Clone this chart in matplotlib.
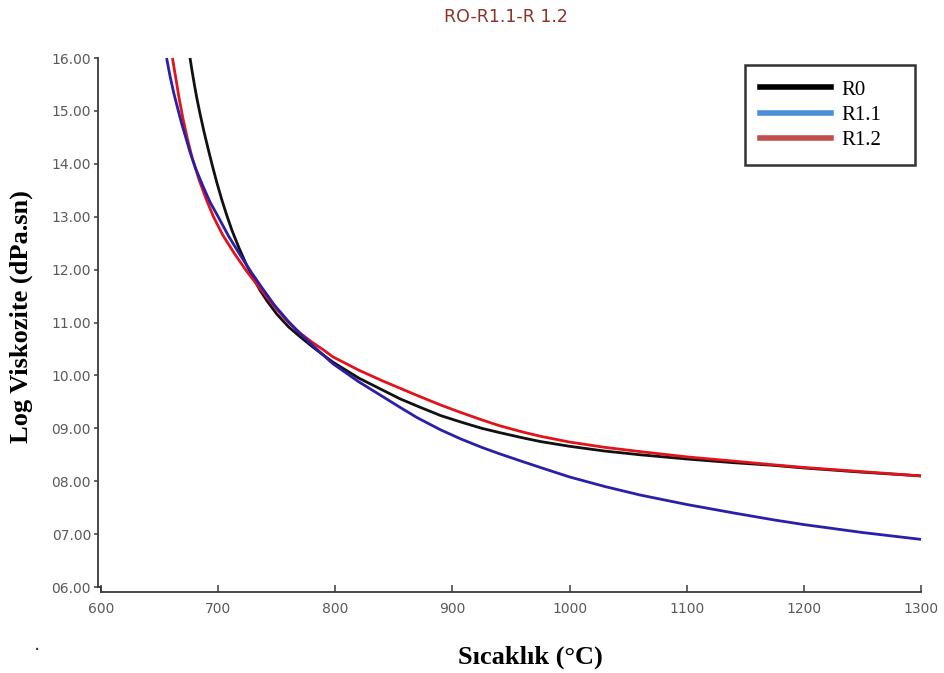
import matplotlib
matplotlib.use("Agg")
import matplotlib.pyplot as plt
from matplotlib.lines import Line2D
from matplotlib.ticker import FormatStrFormatter

# ---- data ----
r0_t = [676, 678, 680, 682, 684.5, 688, 691.6, 695, 698.7, 703, 707.3, 712, 718, 724, 730,
        736, 742, 750, 760, 770, 780, 790, 798, 820, 855, 870, 890, 907, 925, 940, 960,
        975, 1000, 1030, 1060, 1100, 1140, 1174, 1200, 1250, 1300]
r0_v = [16.0, 15.72, 15.46, 15.22, 14.95, 14.6, 14.27, 13.97, 13.66, 13.33, 13.03, 12.73,
        12.4, 12.1, 11.84, 11.6, 11.4, 11.16, 10.92, 10.73, 10.55, 10.38, 10.25, 9.95,
        9.56, 9.42, 9.24, 9.12, 9.00, 8.92, 8.82, 8.75, 8.66, 8.57, 8.50, 8.42, 8.35,
        8.30, 8.25, 8.17, 8.10]

r11_t = [656, 659, 662, 666, 669, 673, 676, 681, 687, 693, 700, 709, 719, 728, 737, 748,
         760, 770, 780, 790, 798, 820, 855, 870, 890, 907, 925, 940, 960, 975, 1000, 1030,
         1060, 1100, 1140, 1174, 1200, 1250, 1300]
r11_v = [16.0, 15.65, 15.35, 15.0, 14.75, 14.45, 14.22, 13.9, 13.58, 13.28, 13.0, 12.63,
         12.27, 11.96, 11.67, 11.33, 11.02, 10.79, 10.58, 10.38, 10.22, 9.88, 9.40, 9.20,
         8.97, 8.80, 8.64, 8.52, 8.37, 8.26, 8.08, 7.90, 7.74, 7.56, 7.40, 7.27, 7.18,
         7.03, 6.90]

r12_t = [661, 664, 667, 670, 674, 678, 684, 690, 696, 704, 714, 724, 733, 742, 750, 760,
         770, 780, 790, 798, 820, 840, 855, 870, 890, 907, 925, 940, 960, 975, 1000, 1030,
         1060, 1100, 1140, 1174, 1200, 1250, 1300]
r12_v = [16.0, 15.6, 15.2, 14.85, 14.45, 14.1, 13.68, 13.32, 13.0, 12.65, 12.3, 11.98,
         11.72, 11.47, 11.25, 11.0, 10.8, 10.63, 10.48, 10.35, 10.1, 9.9, 9.76, 9.62,
         9.44, 9.30, 9.16, 9.05, 8.93, 8.85, 8.74, 8.64, 8.56, 8.46, 8.38, 8.31, 8.26,
         8.18, 8.10]

series_labels = ["R0", "R1.1", "R1.2"]
title_text = "RO-R1.1-R 1.2"
xlabel_text = "Sıcaklık (°C)"
ylabel_text = "Log Viskozite (dPa.sn)"
x_ticks = [600, 700, 800, 900, 1000, 1100, 1200, 1300]
y_ticks = [6, 7, 8, 9, 10, 11, 12, 13, 14, 15, 16]

# ---- figure ----
fig = plt.figure(figsize=(9.44, 6.73), dpi=100)
ax = fig.add_axes([98 / 944, 1 - 592 / 673, (921 - 98) / 944, (592 - 58) / 673])

line_kw = dict(lw=2.0, clip_on=False, solid_capstyle="butt", solid_joinstyle="round")
ax.plot(r0_t, r0_v, color="#111111", **line_kw)
ax.plot(r12_t, r12_v, color="#e0141a", **line_kw)
ax.plot(r11_t, r11_v, color="#2a1fa8", **line_kw)

ax.set_xlim(597.44, 1300)
ax.set_ylim(5.9055, 16.0)

for s in ("top", "right"):
    ax.spines[s].set_visible(False)
spine_col = "#3a3a3a"
ax.spines["left"].set_bounds(6, 16)
ax.spines["bottom"].set_bounds(600, 1300)
for s in ("left", "bottom"):
    ax.spines[s].set_color(spine_col)
    ax.spines[s].set_linewidth(1.3)
# small corner jog joining the two axes
ax.plot([597.44, 600, 600], [6.0, 6.0, 5.9055], color=spine_col, lw=1.3, clip_on=False)

ax.set_xticks(x_ticks)
ax.set_yticks(y_ticks)
ax.yaxis.set_major_formatter(FormatStrFormatter("%05.2f"))
ax.tick_params(axis="x", direction="in", length=5, width=1.1, color=spine_col,
               labelsize=10, labelcolor="#5a5a5a", pad=7)
ax.tick_params(axis="y", direction="out", length=3, width=1.1, color=spine_col,
               labelsize=10, labelcolor="#5a5a5a", pad=2)
for lab in ax.get_xticklabels() + ax.get_yticklabels():
    lab.set_fontfamily("DejaVu Sans")

fig.text(506 / 944, 1 - 17 / 673, title_text, ha="center", va="center",
         fontsize=12.5, color="#8a3326", family="DejaVu Sans")
fig.text(530 / 944, 1 - 657 / 673, xlabel_text, ha="center", va="center",
         fontsize=19, fontweight="bold", family="Liberation Serif")
fig.text(21 / 944, 1 - 317 / 673, ylabel_text, ha="center", va="center", rotation=90,
         fontsize=19, fontweight="bold", family="Liberation Serif")
fig.text(37 / 944, 1 - 645 / 673, ".", ha="center", va="center", fontsize=14, color="#333333")

handles = [Line2D([], [], color="#000000", lw=4),
           Line2D([], [], color="#4a8fd8", lw=4),
           Line2D([], [], color="#c0504d", lw=4)]
x0 = (745 - 98) / 823
w = (915 - 745) / 823
ytop = (592 - 65) / 534
leg = ax.legend(handles, series_labels, loc="upper left",
                bbox_to_anchor=(x0, ytop - 0.2, w, 0.2), mode="expand",
                prop={"family": "Liberation Serif", "size": 15},
                handlelength=3.4, handletextpad=0.5, labelspacing=0.28,
                borderpad=0.72, borderaxespad=0, fancybox=False, frameon=True)
leg.get_frame().set_edgecolor("black")
leg.get_frame().set_linewidth(1.8)

fig.savefig("out.png", dpi=100)
